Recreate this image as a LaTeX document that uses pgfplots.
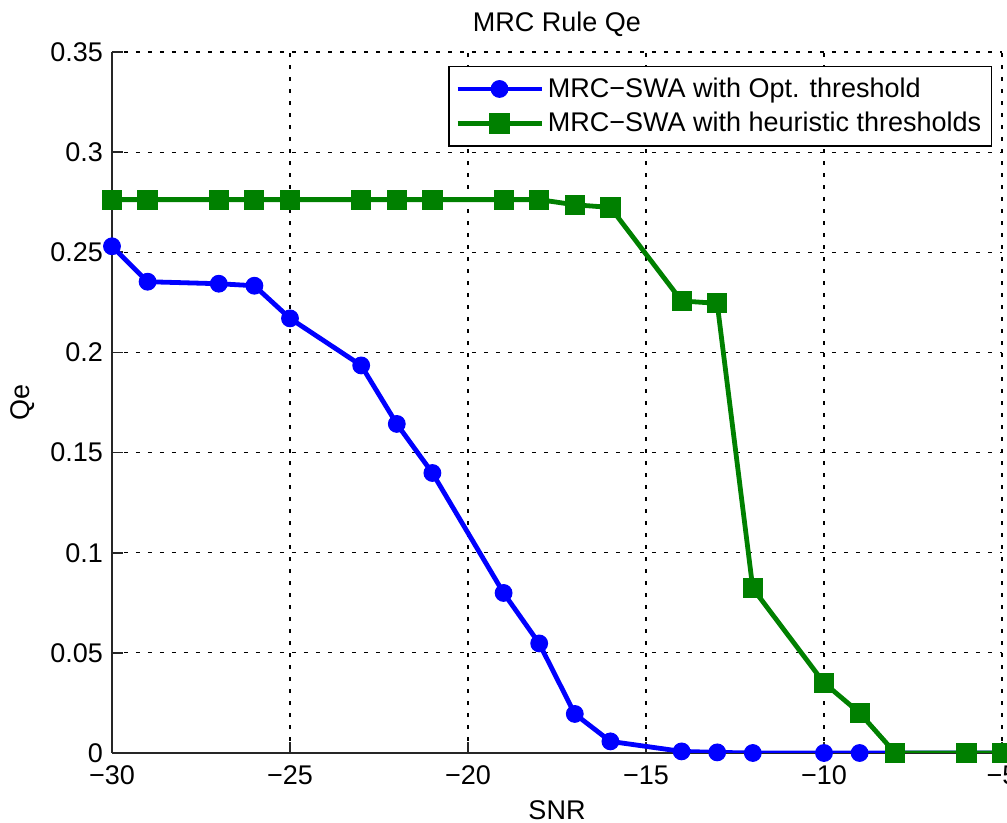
\documentclass[border=0pt]{standalone}
\usepackage{pgfplots}
\pgfplotsset{compat=1.18}
\usepackage{fontspec}
\setmainfont{Liberation Sans}
\definecolor{mblue}{RGB}{0,0,255}
\definecolor{mgreen}{RGB}{0,128,0}
\newcommand{\ff}{\fontsize{13.5}{15}\selectfont}
\begin{document}
\begin{tikzpicture}
\begin{axis}[
  scale only axis,
  width=445pt, height=350.5pt,
  xmin=-30, xmax=-5, ymin=0, ymax=0.35,
  axis x line*=bottom, axis y line*=left,
  axis line style={-, line width=0.8pt, black!85},
  xtick={-30,-25,-20,-15,-10,-5},
  xticklabels={−30,−25,−20,−15,−10,−5},
  ytick={0,0.05,0.1,0.15,0.2,0.25,0.3,0.35},
  yticklabels={0,0.05,0.1,0.15,0.2,0.25,0.3,0.35},
  tick align=inside,
  major tick length=5.5pt,
  tick style={line width=0.8pt, black!85},
  grid=major,
  major grid style={black, line width=0.6pt, dash pattern=on 1.8pt off 4.2pt},
  ticklabel style={font=\ff},
  xticklabel style={yshift=-3pt},
  yticklabel style={xshift=-1pt},
  title={MRC Rule Qe},
  title style={font=\ff, yshift=-2pt},
  xlabel={SNR}, ylabel={Qe},
  label style={font=\ff},
  xlabel style={yshift=-1pt},
  ylabel style={yshift=1pt},
  legend cell align=left,
  legend style={at={(1,1)}, anchor=north east, xshift=-5pt, yshift=-7pt,
    draw=black, line width=0.7pt, font=\ff, inner xsep=3pt, inner ysep=2.5pt,
    row sep=0pt, nodes={inner ysep=3pt}},
  legend image code/.code={\draw[mark repeat=2,mark phase=2] plot coordinates {(0pt,0pt) (21pt,0pt) (42pt,0pt)};},
]
\addplot[mblue, line width=2.4pt, mark=*, mark size=4.2pt, mark options={solid, fill=mblue, line width=0.5pt}] coordinates {
(-30,0.2530) (-29,0.2353) (-27,0.2343) (-26,0.2333) (-25,0.2170)
(-23,0.1935) (-22,0.1643) (-21,0.1398) (-19,0.0799) (-18,0.0547)
(-17,0.0195) (-16,0.0058) (-14,0.0008) (-13,0.0003) (-12,0)
(-10,0) (-9,0) (-8,0) (-6,0) (-5,0)
};
\addlegendentry{MRC−SWA with Opt. threshold}
\addplot[mgreen, line width=2.4pt, mark=square*, mark size=4.8pt, mark options={solid, fill=mgreen, line width=0.5pt}] coordinates {
(-30,0.2763) (-29,0.2763) (-27,0.2763) (-26,0.2763) (-25,0.2763)
(-23,0.2763) (-22,0.2763) (-21,0.2763) (-19,0.2763) (-18,0.2763)
(-17,0.2737) (-16,0.2724) (-14,0.2257) (-13,0.2245) (-12,0.0822)
(-10,0.0350) (-9,0.0200) (-8,0) (-6,0) (-5,0)
};
\addlegendentry{MRC−SWA with heuristic thresholds}
\end{axis}
\pgfresetboundingbox
\path ([shift={(-56pt,-35pt)}]current axis.south west) rectangle ([shift={(2.5pt,26pt)}]current axis.north east);
\end{tikzpicture}
\end{document}
